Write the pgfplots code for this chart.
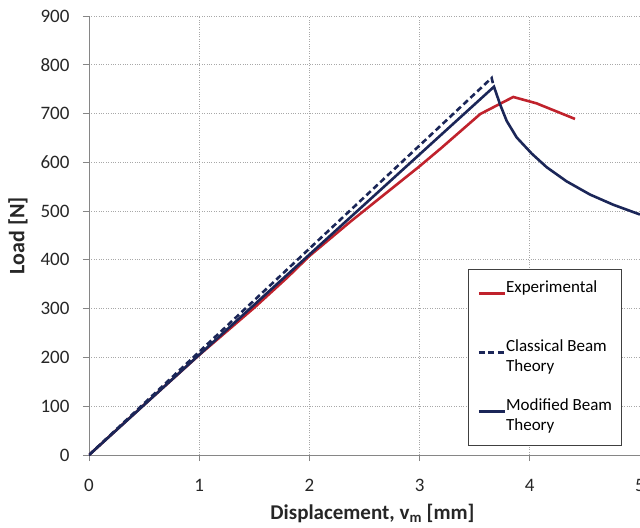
\documentclass[border=0pt]{standalone}
\usepackage{fontspec}
\setmainfont{Carlito}
\usepackage{pgfplots}
\pgfplotsset{compat=1.18}

\definecolor{expred}{RGB}{192,34,44}
\definecolor{beamnavy}{RGB}{27,38,88}
\definecolor{gridgray}{RGB}{168,168,168}
\definecolor{axisgray}{RGB}{134,134,134}

% Experimental load-displacement curve
\pgfplotstableread{
x      y
0      0
0.5    103
1.0    205
1.5    302
1.8    364
2.0    408
2.37   478
3.0    592
3.2    630
3.55   699
3.85   734
4.06   721
4.41   689
}\experimental

% Classical beam theory prediction
\pgfplotstableread{
x      y
0      0
3.654  773
3.675  752
}\classical

% Modified beam theory prediction
\pgfplotstableread{
x      y
0      0
3.675  755
3.73   719
3.79   685
3.881  651
4.017  618
4.153  590
4.334  561
4.546  534
4.758  513
5.0    493
}\modified

\begin{document}
\begin{tikzpicture}
\begin{axis}[
  scale only axis, width=551pt, height=439pt,
  xmin=0, xmax=5, ymin=0, ymax=900,
  xtick={0,1,2,3,4,5}, ytick={0,100,...,900},
  axis x line*=bottom, axis y line*=left,
  axis line style={draw=axisgray, line width=0.9pt},
  tick align=outside, major tick length=6pt,
  tick style={draw=axisgray, line width=0.9pt},
  grid=major,
  major grid style={draw=gridgray, line width=0.8pt, dash pattern=on 1pt off 1.4pt},
  /pgf/number format/assume math mode=true,
  tick label style={font=\fontsize{19}{22}\selectfont, text=black!85},
  yticklabel style={anchor=east, xshift=-10pt},
  xticklabel style={anchor=north, yshift=-15pt},
  xlabel={\textbf{Displacement, v\textsubscript{m} [mm]}},
  ylabel={\textbf{Load [N]}},
  xlabel style={font=\fontsize{21}{25}\selectfont, text=black!85, yshift=-5pt, xshift=8pt},
  ylabel style={font=\fontsize{22}{26}\selectfont, text=black!85, yshift=6pt},
  legend style={
    at={(rel axis cs:0.688,0.4237)}, anchor=north west,
    draw=black!75, line width=0.8pt,
    inner xsep=9pt, inner ysep=9pt,
    font=\fontsize{17}{20}\selectfont,
    nodes={inner sep=0pt, text depth=},
    row sep=19pt,
    /tikz/every even column/.append style={column sep=5pt},
  },
  legend cell align=left,
  legend image code/.code={\draw[#1] (0pt,5pt) -- (26pt,5pt);},
]
\addplot[expred, line width=2.6pt] table {\experimental};
\addlegendentry{\begin{tabular}[t]{@{}l@{}}Experimental\\ \mbox{}\end{tabular}}
\addplot[beamnavy, line width=2.6pt, dash pattern=on 6pt off 3.5pt] table {\classical};
\addlegendentry{\begin{tabular}[t]{@{}l@{}}Classical Beam\\Theory\end{tabular}}
\addplot[beamnavy, line width=2.6pt] table {\modified};
\addlegendentry{\begin{tabular}[t]{@{}l@{}}Modified Beam\\Theory\end{tabular}}
\end{axis}
\pgfresetboundingbox
\useasboundingbox ([shift={(-89pt,-72pt)}]current axis.south west) rectangle ([shift={(0pt,16pt)}]current axis.north east);
\end{tikzpicture}
\end{document}
